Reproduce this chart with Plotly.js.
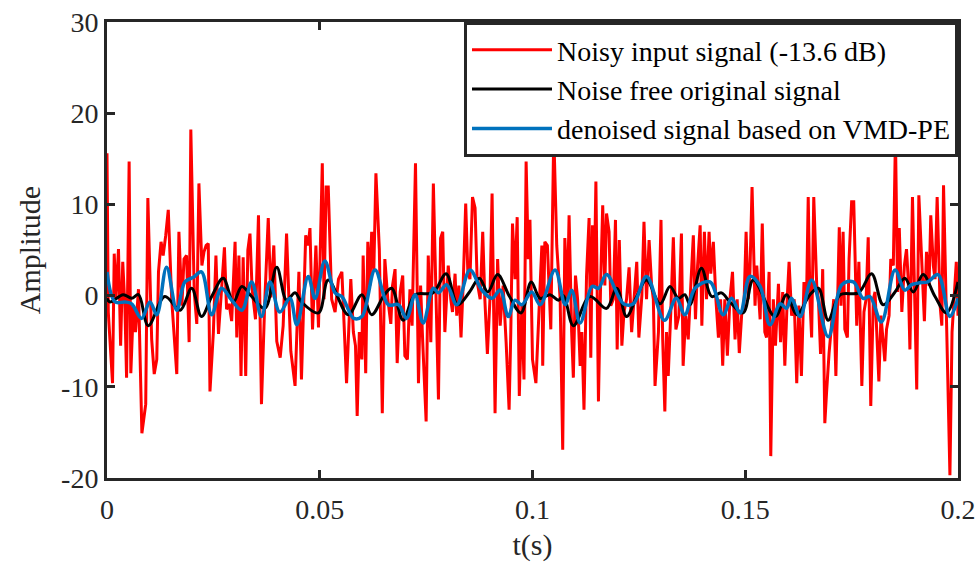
<!DOCTYPE html>
<html>
<head>
<meta charset="utf-8">
<script src="https://cdn.plot.ly/plotly-3.0.1.min.js"></script>
<style>html,body{margin:0;padding:0;background:#fff;}#chart{width:980px;height:562px;}</style>
</head>
<body>
<div id="chart"></div>
<script>
// ---- Data ----
var tNoisy = [0,0.0003,0.0013,0.0017,0.0021,0.0027,0.0032,0.0037,0.0042,0.0046,0.0052,0.0056,0.0062,0.0067,0.0074,0.0082,0.0091,0.0096,0.0105,0.0111,0.0117,0.0121,0.0127,0.0132,0.0138,0.0144,0.0152,0.0158,0.0164,0.0169,0.0176,0.0181,0.0187,0.0193,0.0197,0.0205,0.0211,0.0216,0.0223,0.0228,0.0233,0.0238,
0.0242,0.0250,0.0256,0.0262,0.0267,0.0276,0.0281,0.0287,0.0293,0.0301,0.0305,0.0310,0.0315,0.0320,0.0326,0.0331,0.0336,0.0341,0.0349,0.0356,0.0363,0.0371,0.0379,0.0385,0.0392,0.0399,0.0407,0.0414,0.0422,0.0432,0.0442,0.0451,0.0457,0.0467,0.0473,0.0477,0.0483,0.0491,0.0497,0.0506,
0.0510,0.0515,0.0520,0.0528,0.0536,0.0544,0.0552,0.0557,0.0563,0.0573,0.0579,0.0584,0.0588,0.0593,0.0599,0.0602,0.0608,0.0613,0.0618,0.0622,0.0627,0.0632,0.0640,0.0647,0.0653,0.0660,0.0667,0.0671,0.0677,0.0682,0.0689,0.0695,0.0700,0.0706,0.0712,0.0717,0.0725,0.0732,0.0737,0.0742,0.0750,0.0755,0.0761,0.0767,
0.0775,0.0779,0.0784,0.0789,0.0794,0.0802,0.0808,0.0812,0.0818,0.0822,0.0827,0.0832,0.0837,0.0843,0.0848,0.0853,0.0859,0.0865,0.0870,0.0877,0.0883,0.0888,0.0894,0.0900,0.0905,0.0912,0.0918,0.0924,0.0928,0.0931,0.0938,0.0945,0.0949,0.0953,0.0959,0.0964,0.0969,0.0975,0.0980,0.0985,0.0990,0.0994,0.1000,0.1008,
0.1022,0.1024,0.1029,0.1035,0.1043,0.1050,0.1057,0.1065,0.1071,0.1076,0.1082,0.1086,0.1092,0.1096,0.1101,0.1106,0.1112,0.1116,0.1121,0.1127,0.1133,0.1137,0.1141,0.1145,0.1149,0.1155,0.1160,0.1165,0.1170,0.1174,0.1180,0.1184,0.1190,0.1195,0.1199,0.1204,0.1210,0.1215,0.1221,0.1227,0.1233,0.1238,0.1245,0.1250,0.1257,0.1262,0.1268,0.1274,0.1280,0.1284,0.1288,
0.1296,0.1302,0.1306,0.1311,0.1315,0.1319,0.1325,0.1331,0.1337,0.1344,0.1350,0.1354,0.1360,0.1366,0.1372,0.1378,0.1383,0.1388,0.1394,0.1398,0.1404,0.1409,0.1415,0.1419,0.1425,0.1431,0.1437,0.1442,0.1447,0.1452,0.1458,0.1464,0.1470,0.1476,0.1481,0.1486,0.1492,0.1497,0.1502,0.1507,0.1511,0.1516,0.1523,0.1527,0.1535,0.1540,0.1546,
0.1550,0.1556,0.1560,0.1566,0.1571,0.1578,0.1583,0.1588,0.1593,0.1599,0.1603,0.1609,0.1615,0.1621,0.1626,0.1632,0.1638,0.1644,0.1648,0.1652,0.1656,0.1661,0.1668,0.1672,0.1677,0.1682,0.1687,0.1691,0.1697,0.1708,0.1713,0.1721,0.1725,0.1730,0.1734,0.1740,0.1744,0.1750,0.1755,0.1762,0.1767,0.1774,0.1779,0.1784,0.1789,0.1795,0.1801,
0.1805,0.1809,0.1814,0.1819,0.1824,0.1828,0.1832,0.1838,0.1842,0.1848,0.1853,0.1858,0.1862,0.1868,0.1874,0.1879,0.1883,0.1887,0.1893,0.1899,0.1903,0.1908,0.1915,0.1921,0.1926,0.1932,0.1936,0.1942,0.1946,0.1951,0.1958,0.1962,0.1966,0.1972,0.1977,0.1981,0.1986,0.1991,0.1996,0.2000];
var yNoisy = [15.6,-1.8,-9.6,4.6,-0.4,5.1,-5.5,3.7,-1.1,-9.0,14.7,-8.5,-1.1,-4.0,0.7,-15.1,-11.9,10.7,-4.8,-8.6,-7.0,2.6,5.9,4.4,6.6,9.4,-0.4,-4.8,-8.6,7.0,-1.1,4.0,4.4,-5.1,18.2,0.4,-3.1,12.3,3.3,4.8,5.5,5.7,
-10.5,-4.0,4.4,-4.2,-0.4,5.3,-1.5,-0.9,-2.8,5.9,-4.6,4.4,-8.8,4.2,-8.8,5.0,6.8,0.7,-2.6,8.8,-11.9,-0.4,8.5,-0.2,5.5,-5.0,-6.8,-3.3,6.8,-6.1,-9.9,2.6,-9.2,6.6,5.5,7.4,-3.7,5.5,-3.5,14.5,
-0.4,11.9,11.9,-0.4,-1.8,1.8,2.6,-3.7,-9.6,1.8,-4.0,-5.5,-13.2,-4.0,-7.0,4.4,-8.5,5.9,1.1,7.0,2.6,13.4,5.1,-12.9,4.0,-0.4,-3.1,1.1,2.9,-7.4,0.4,2.2,-6.6,-7.0,0.7,-3.3,14.5,-9.6,1.1,-5.1,-13.8,4.4,-5.1,12.3,
-3.3,-11.4,6.3,7.0,-4.0,3.3,-0.4,-1.8,2.4,-2.2,1.1,-4.6,1.1,10.1,2.6,1.8,10.8,9.6,1.5,-0.4,7.0,-0.4,-6.4,-0.4,11.2,-12.9,4.0,-3.3,-0.7,1.1,-5.1,-12.5,-4.0,7.9,1.8,8.6,-11.0,-1.1,-9.2,14.7,4.0,8.3,-7.0,-9.6,
5.5,-7.7,5.9,5.5,-3.7,17.8,5.5,-0.4,-16.9,6.3,-0.4,8.8,-4.0,-9.0,2.2,-0.4,-7.7,-4.0,-12.5,2.2,8.5,-6.8,7.7,1.1,12.5,-11.6,1.1,9.9,1.1,9.0,7.0,-1.1,-0.4,8.3,-5.9,6.1,-5.5,-1.8,-0.4,3.1,-4.0,-0.7,3.7,-4.6,0.0,8.1,-0.4,6.1,1.1,-0.4,-9.9,
-4.0,8.3,-4.8,-12.7,-4.0,-8.8,-1.8,6.4,-3.7,-2.2,6.8,-7.7,-2.2,-4.8,1.1,6.6,-2.6,3.3,7.7,-3.3,7.0,-0.4,7.0,2.4,5.9,-0.4,-4.6,-0.4,-7.7,-0.4,-6.6,-0.4,2.6,-4.8,-0.4,-6.3,-1.8,-1.1,7.0,-0.4,2.6,11.9,-1.1,3.3,-2.6,7.9,-4.0,
-4.6,2.6,-17.6,-0.4,-5.5,1.3,-5.1,0.4,-7.7,0.0,3.7,-2.2,-0.4,-9.6,-1.1,-8.8,1.5,-0.4,10.8,-0.4,-4.6,10.8,1.1,-0.4,-6.4,2.9,-14.0,-10.7,-6.3,-0.4,-8.8,7.5,-1.1,7.0,-3.7,-4.6,4.0,10.3,10.3,-3.3,3.7,-9.9,-1.8,-0.4,6.4,-12.1,-0.4,
0.4,-3.3,-9.4,-2.2,-4.8,-7.2,-3.7,-2.2,4.0,3.3,17.5,0.4,7.4,-1.8,3.3,5.1,1.8,-5.9,10.8,-0.4,-10.3,11.0,4.0,-2.8,4.8,1.1,8.8,3.3,1.8,10.8,-1.1,-3.3,12.1,-0.4,-7.7,-19.7,-4.0,0.4,3.7,-2.2];

var tClean = [0,0.0007,0.0038,0.0058,0.0074,0.0097,0.0136,0.0172,0.0199,0.0222,0.0246,0.0273,0.0297,0.0317,0.0340,0.0371,0.0399,0.0422,0.0442,0.0457,0.0497,0.0520,0.0567,0.0599,0.0622,0.0652,0.0669,0.0696,0.0724,0.0766,0.0797,0.0824,0.0852,0.0875,0.0895,0.0918,0.0946,0.0973,0.0997,
0.1018,0.1041,0.1061,0.1073,0.1096,0.1135,0.1174,0.1198,0.1221,0.1245,0.1268,0.1300,0.1323,0.1343,0.1358,0.1370,0.1397,0.1421,0.1444,0.1464,0.1495,0.1519,0.1570,0.1597,0.1621,0.1652,0.1672,0.1695,0.1723,0.1766,0.1797,0.1824,0.1852,0.1875,0.1895,0.1918,0.1946,0.1973,0.2000];
var yClean = [-0.3,-0.7,0.1,-0.3,0.1,-3.3,-0.1,-1.6,0.8,-2.3,-0.1,1.9,-0.7,1.0,-0.1,-1.4,3.1,-0.5,0.3,-0.7,-1.9,1.7,-2.1,0.1,-2.1,0.1,0.8,-2.7,0.1,0.3,2.4,-1.0,0.4,1.9,0.4,2.3,-0.1,-1.9,1.5,
-0.3,0.1,-0.5,0.0,-3.3,-0.1,-1.4,0.8,-2.3,-0.1,1.7,-0.9,1.0,-0.3,0.1,-1.0,3.0,-0.1,0.3,-0.7,-1.9,1.7,-2.3,0.1,-2.1,0.1,0.8,-2.7,0.1,0.3,2.4,-1.0,0.4,1.9,0.4,2.3,-0.1,-1.9,1.5];

var tDenoised = [0,0.0019,0.0042,0.0058,0.0081,0.0101,0.0117,0.0140,0.0164,0.0183,0.0203,0.0222,0.0246,0.0269,0.0293,0.0317,0.0340,0.0363,0.0383,0.0406,0.0430,0.0446,0.0473,0.0489,0.0512,0.0536,0.0552,0.0580,0.0599,0.0630,0.0661,0.0685,0.0704,0.0724,0.0743,0.0767,0.0779,0.0798,0.0822,0.0853,0.0881,0.0905,0.0924,0.0943,0.0959,0.0975,0.0998,
0.1018,0.1053,0.1077,0.1092,0.1112,0.1140,0.1155,0.1174,0.1214,0.1237,0.1268,0.1310,0.1338,0.1358,0.1382,0.1417,0.1448,0.1468,0.1488,0.1511,0.1535,0.1558,0.1582,0.1597,0.1609,0.1629,0.1656,0.1695,0.1727,0.1754,0.1777,0.1793,0.1820,0.1852,0.1875,0.1891,0.1910,0.1929,0.1953,0.1981,0.2000];
var yDenoised = [2.6,-0.7,-0.7,-0.9,-2.5,-0.7,-2.1,3.1,-1.6,1.5,2.0,2.6,-2.1,0.8,-0.5,-1.6,1.5,-2.3,1.5,-1.8,-0.3,-3.2,2.1,-0.3,3.8,0.3,-0.1,-2.5,-2.3,2.8,-1.0,-1.0,-2.5,0.1,-3.0,0.8,0.3,1.2,-1.0,2.8,0.6,-0.3,0.6,-2.3,-0.5,-1.0,0.4,
-1.0,2.8,-1.0,0.6,-3.0,1.0,0.8,2.3,-0.9,-0.9,2.1,-2.7,-0.3,-2.1,0.8,1.5,-2.1,-0.3,-1.9,2.1,1.0,-3.2,-0.9,-1.4,-0.3,-2.3,1.7,-4.5,1.2,1.5,-0.3,-0.1,-2.9,2.8,0.6,1.2,1.4,1.5,2.3,-2.3,-0.3];

var seriesNames = ['Noisy input signal (-13.6 dB)', 'Noise free original signal', 'denoised signal based on VMD-PE'];
var xTickVals = [0, 0.05, 0.1, 0.15, 0.2];
var xTickText = ['0', '0.05', '0.1', '0.15', '0.2'];
var yTickVals = [-20, -10, 0, 10, 20, 30];
var yTickText = ['-20', '-10', '0', '10', '20', '30'];
var xTitle = 't(s)';
var yTitle = 'Amplitude';

// ---- Chart ----
var traces = [
  {x: tNoisy, y: yNoisy, name: seriesNames[0], mode: 'lines', line: {color: '#FF0000', width: 3}},
  {x: tClean, y: yClean, name: seriesNames[1], mode: 'lines', line: {color: '#000000', width: 3, shape: 'spline', smoothing: 1}},
  {x: tDenoised, y: yDenoised, name: seriesNames[2], mode: 'lines', line: {color: '#0072BD', width: 3.5, shape: 'spline', smoothing: 1}}
];

var axisCommon = {
  showgrid: false, zeroline: false, showline: true, linecolor: '#262626', linewidth: 3,
  mirror: 'ticks', ticks: 'inside', ticklen: 8, tickwidth: 3, tickcolor: '#262626',
  tickmode: 'array', tickfont: {size: 28, color: '#262626'}
};

var layout = {
  width: 980, height: 562,
  margin: {l: 107, r: 22, t: 22, b: 84},
  paper_bgcolor: '#ffffff', plot_bgcolor: '#ffffff',
  font: {family: '"Liberation Serif", "Times New Roman", serif', color: '#262626', size: 28},
  showlegend: true,
  xaxis: Object.assign({}, axisCommon, {
    range: [0, 0.2], tickvals: xTickVals, ticktext: xTickText, ticklabelstandoff: 4,
    title: {text: xTitle, font: {size: 30, color: '#262626'}, standoff: 12}
  }),
  yaxis: Object.assign({}, axisCommon, {
    range: [-20, 30], tickvals: yTickVals, ticktext: yTickText,
    title: {text: yTitle, font: {size: 30, color: '#262626'}, standoff: 12}
  }),
  legend: {
    x: 1, xanchor: 'right', y: 1, yanchor: 'top',
    bgcolor: '#ffffff', bordercolor: '#262626', borderwidth: 3,
    font: {size: 28, color: '#000000'}, itemwidth: 80, tracegroupgap: 0
  }
};

Plotly.newPlot('chart', traces, layout, {displayModeBar: false, staticPlot: true});
</script>
</body>
</html>
